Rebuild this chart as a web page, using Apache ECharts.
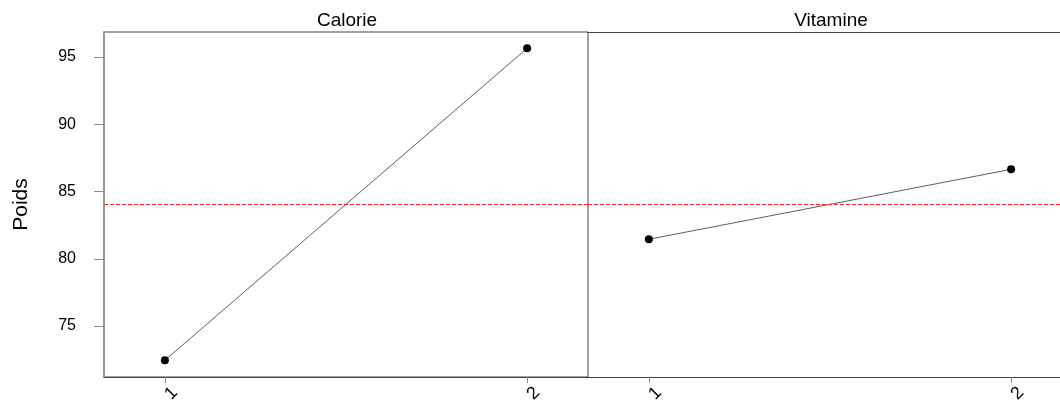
<!DOCTYPE html>
<html><head><meta charset="utf-8">
<script src="https://cdn.jsdelivr.net/npm/echarts@6/dist/echarts.min.js"></script>
<style>html,body{margin:0;padding:0;background:#fff}#c{width:1060px;height:400px}</style>
</head><body><div id="c"></div>
<script>
const panels = ['Calorie', 'Vitamine'];
const levels = [1, 2];
const calorie = [72.45, 95.65];
const vitamine = [81.45, 86.65];
const grandMean = 84.05;
const yTicks = [75, 80, 85, 90, 95];
const yLabel = 'Poids';

const seriesValues = [calorie, vitamine];
const font = 'Liberation Sans, Arial, sans-serif';
const chart = echarts.init(document.getElementById('c'));
const xMin = 0.832, xMaxLeft = 2.168, xMaxRight = 2.135;
const grids = [
  {left: 104, top: 32, width: 484, height: 345, show: true, borderColor: '#444', borderWidth: 1, outerBoundsMode: 'none', containLabel: false},
  {left: 588, top: 32, right: 0, height: 345, show: false, outerBoundsMode: 'none', containLabel: false}
];
const xAxes = panels.map((p, i) => ({
  type: 'value', gridIndex: i, min: xMin, max: i === 0 ? xMaxLeft : xMaxRight,
  axisLine: {show: true, onZero: false, lineStyle: {color: '#444', width: 1}},
  axisTick: {show: true, customValues: levels, length: 6, lineStyle: {color: '#888'}},
  axisLabel: {show: true, customValues: levels, rotate: 45, align: 'center', verticalAlign: 'top', margin: 10,
    fontFamily: font, fontSize: 18, color: '#000', formatter: v => String(v)},
  splitLine: {show: false}
}));
// top frame line of the right panel
xAxes.push({
  type: 'value', gridIndex: 1, position: 'top', min: xMin, max: xMaxRight,
  axisLine: {show: true, onZero: false, lineStyle: {color: '#444', width: 1}},
  axisTick: {show: false}, axisLabel: {show: false}, splitLine: {show: false}
});
const yAxes = panels.map((p, i) => ({
  type: 'value', gridIndex: i, min: 71.21, max: 96.86,
  name: i === 0 ? yLabel : '', nameLocation: 'middle', nameGap: 72, nameRotate: 90,
  nameTextStyle: {fontFamily: font, fontSize: 21, color: '#000'},
  axisLine: {show: i === 0, lineStyle: {color: '#999', width: 2}},
  axisTick: {show: i === 0, customValues: yTicks, length: 10, lineStyle: {color: '#888', width: 1}},
  axisLabel: {show: i === 0, customValues: yTicks, fontFamily: font, fontSize: 16, color: '#000', margin: 28},
  splitLine: {show: false}
}));
const series = panels.map((p, i) => ({
  type: 'line', xAxisIndex: i, yAxisIndex: i,
  data: levels.map((l, j) => [l, seriesValues[i][j]]),
  symbol: 'circle', symbolSize: 8,
  itemStyle: {color: '#000'},
  lineStyle: {color: '#333', width: 0.8},
  silent: true, animation: false,
  markLine: {symbol: 'none', silent: true, animation: false, label: {show: false},
    itemStyle: {color: '#ff2222'},
    lineStyle: {color: '#ff2222', type: [4, 2], width: 1},
    data: [{yAxis: grandMean, lineStyle: {color: '#ff2222', type: [4, 2], width: 1}}]}
}));
chart.setOption({
  animation: false,
  title: panels.map((p, i) => ({
    text: p, left: 342 + i * 484, top: 6, textAlign: 'center',
    textStyle: {fontFamily: font, fontSize: 19, fontWeight: 'normal', color: '#000'}
  })),
  grid: grids, xAxis: xAxes, yAxis: yAxes, series: series
});
</script></body></html>
